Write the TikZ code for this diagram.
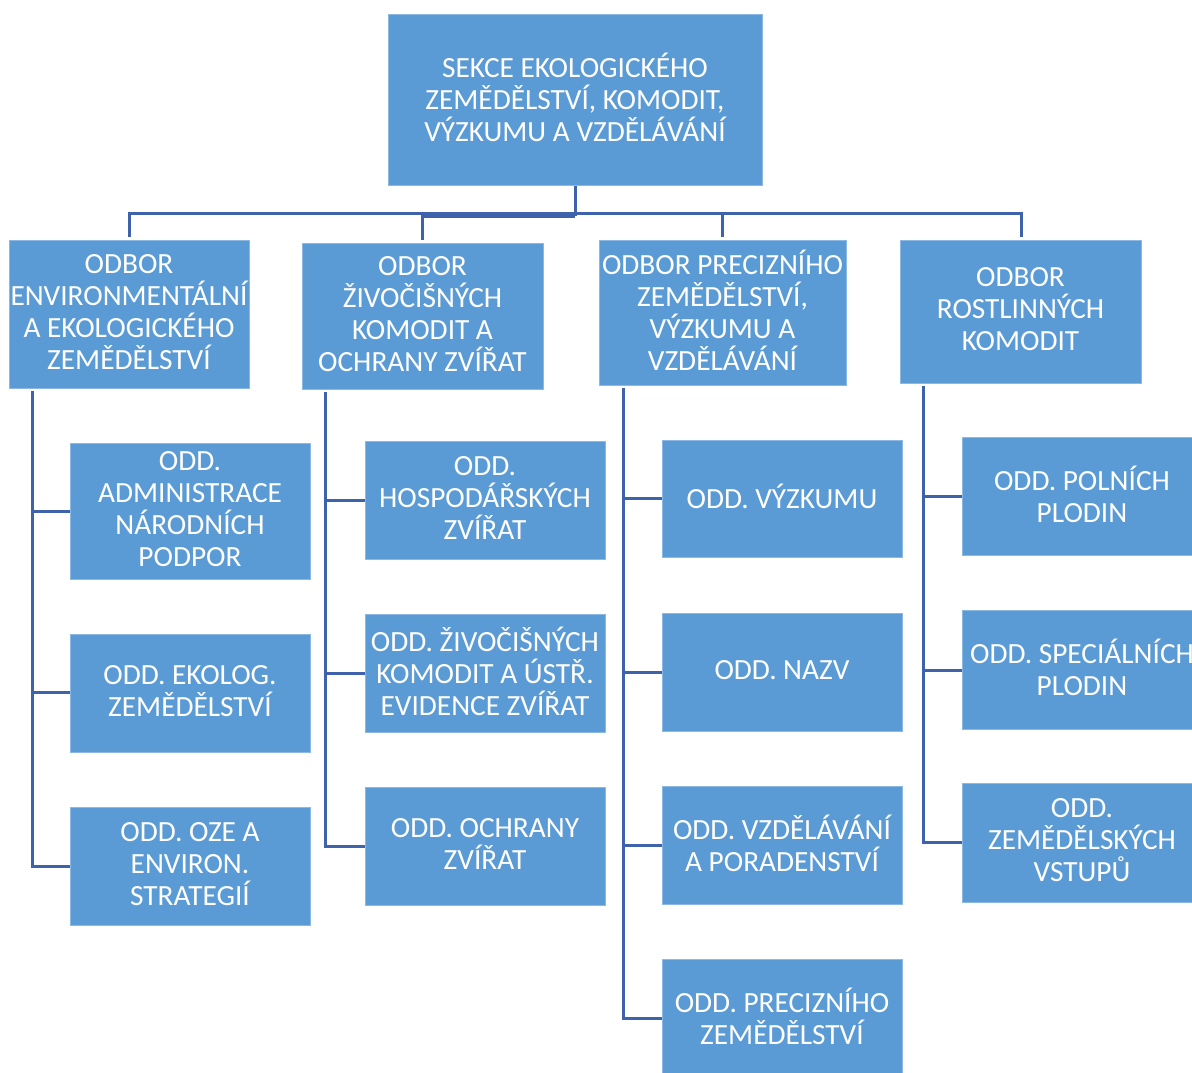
\documentclass[tikz,border=0pt]{standalone}
\usepackage{fontspec}
\setmainfont{Carlito}
\definecolor{boxblue}{RGB}{91,155,213}
\definecolor{boxedge}{RGB}{140,185,228}
\definecolor{linkblue}{RGB}{62,98,172}
\tikzset{
  orgbox/.style={fill=boxblue, draw=boxedge, line width=0.8pt, inner sep=0pt},
  orgtext/.style={text=white, align=center, inner sep=0pt, yshift=2pt,
    font=\fontsize{29.3}{32}\selectfont},
  conn/.style={draw=linkblue, line width=3pt}
}
\newcommand{\orgnode}[6]{%
  \node[orgbox, minimum width={#4-#2}, minimum height={#5-#3},
    label={[orgtext]center:{#6}}] (#1) at ({(#2+#4)/2},{(#3+#5)/2}) {};}
\begin{document}
\begin{tikzpicture}[x=1pt,y=-1pt]
\useasboundingbox (0,0) rectangle (1192,1072);
\clip (0,0) rectangle (1192,1072);
\fill[white] (0,0) rectangle (1192,1072);
% top
\orgnode{top}{388}{14}{762}{185}{SEKCE EKOLOGICKÉHO\\ZEMĚDĚLSTVÍ, KOMODIT,\\VÝZKUMU A VZDĚLÁVÁNÍ}
% odbory
\orgnode{b1}{9}{240}{249}{388}{ODBOR\\ENVIRONMENTÁLNÍ\\A EKOLOGICKÉHO\\ZEMĚDĚLSTVÍ}
\orgnode{b2}{302}{243}{543}{389}{ODBOR\\ŽIVOČIŠNÝCH\\KOMODIT A\\OCHRANY ZVÍŘAT}
\orgnode{b3}{599}{240}{846}{385}{ODBOR PRECIZNÍHO\\ZEMĚDĚLSTVÍ,\\VÝZKUMU A\\VZDĚLÁVÁNÍ}
\orgnode{b4}{900}{240}{1141}{383}{ODBOR\\ROSTLINNÝCH\\KOMODIT}
% column 1
\orgnode{c11}{70}{443}{310}{579}{ODD.\\ADMINISTRACE\\NÁRODNÍCH\\PODPOR}
\orgnode{c12}{70}{634}{310}{752}{ODD. EKOLOG.\\ZEMĚDĚLSTVÍ}
\orgnode{c13}{70}{807}{310}{925}{ODD. OZE A\\ENVIRON.\\STRATEGIÍ}
% column 2
\orgnode{c21}{365}{441}{605}{559}{ODD.\\HOSPODÁŘSKÝCH\\ZVÍŘAT}
\orgnode{c22}{365}{614}{605}{732}{ODD. ŽIVOČIŠNÝCH\\KOMODIT A ÚSTŘ.\\EVIDENCE ZVÍŘAT}
\orgnode{c23}{365}{787}{605}{905}{ODD. OCHRANY\\ZVÍŘAT}
% column 3
\orgnode{c31}{662}{440}{902}{557}{ODD. VÝZKUMU}
\orgnode{c32}{662}{613}{902}{731}{ODD. NAZV}
\orgnode{c33}{662}{786}{902}{904}{ODD. VZDĚLÁVÁNÍ\\A PORADENSTVÍ}
\orgnode{c34}{662}{959}{902}{1077}{ODD. PRECIZNÍHO\\ZEMĚDĚLSTVÍ}
% column 4
\orgnode{c41}{962}{437}{1202}{555}{ODD. POLNÍCH\\PLODIN}
\orgnode{c42}{962}{610}{1202}{729}{ODD. SPECIÁLNÍCH\\PLODIN}
\orgnode{c43}{962}{783}{1202}{902}{ODD.\\ZEMĚDĚLSKÝCH\\VSTUPŮ}
% connectors top
\coordinate (hub) at (575,213);
\coordinate (hubb) at (575,216);
\coordinate (t1) at (129,237);
\coordinate (t2) at (422,240);
\coordinate (t3) at (722,237);
\coordinate (t4) at (1021,237);
\draw[conn] (top.south |- 0,186) -- (hubb);
\draw[conn] (t1) |- (hub) -| (t4);
\draw[conn] (hub) -| (t3);
\draw[conn] (hubb) -| (t2);
% column spines
\coordinate (s1) at (32,391);
\coordinate (s2) at (325,392);
\coordinate (s3) at (623,388);
\coordinate (s4) at (923,386);
\coordinate (e1) at (32,866);
\coordinate (e2) at (325,846);
\coordinate (e3) at (623,1018);
\coordinate (e4) at (923,842);
\draw[conn] (s1) |- (e1) -- (c13.west |- e1);
\draw[conn] (s1 |- 0,511) -- (c11.west |- 0,511);
\draw[conn] (s1 |- 0,692) -- (c12.west |- 0,692);
\draw[conn] (s2) |- (e2) -- (c23.west |- e2);
\draw[conn] (s2 |- 0,500) -- (c21.west |- 0,500);
\draw[conn] (s2 |- 0,673) -- (c22.west |- 0,673);
\draw[conn] (s3) |- (e3) -- (c34.west |- e3);
\draw[conn] (s3 |- 0,498) -- (c31.west |- 0,498);
\draw[conn] (s3 |- 0,672) -- (c32.west |- 0,672);
\draw[conn] (s3 |- 0,845) -- (c33.west |- 0,845);
\draw[conn] (s4) |- (e4) -- (c43.west |- e4);
\draw[conn] (s4 |- 0,496) -- (c41.west |- 0,496);
\draw[conn] (s4 |- 0,670) -- (c42.west |- 0,670);
\end{tikzpicture}
\end{document}
